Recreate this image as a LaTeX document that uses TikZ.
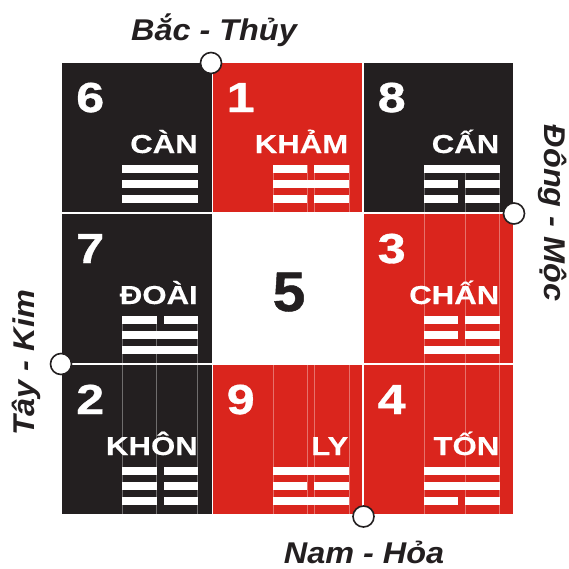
\documentclass[tikz,border=0pt]{standalone}
\usepackage{fontspec}
\setmainfont{Liberation Sans}
\newfontfamily\numfont[FakeStretch=1.2,FakeBold=0.8]{Liberation Sans Bold}
\newfontfamily\midfont[FakeStretch=1.05,FakeBold=0.8]{Liberation Sans Bold}
\newfontfamily\lblfont[FakeStretch=1.2,FakeBold=0.3]{Liberation Sans Bold}
\newfontfamily\dirfont[FakeStretch=1.08]{Liberation Sans Bold Italic}
\definecolor{gblack}{RGB}{35,31,32}
\definecolor{gred}{RGB}{218,37,29}
\tikzset{
  cellbox/.style={draw=none, inner sep=0pt, minimum width=149.5pt, minimum height=149pt, anchor=north west},
  numtext/.style={text=white, inner sep=0pt, anchor=base west, font=\numfont\fontsize{42}{42}\selectfont},
  lbltext/.style={text=white, inner sep=0pt, anchor=base east, font=\lblfont\fontsize{26}{26}\selectfont},
  dirtext/.style={text=gblack, inner sep=0pt, font=\dirfont\fontsize{30}{30}\selectfont},
  barfill/.style={fill=white, draw=none},
  faint/.style={draw=white, draw opacity=0.35, line width=0.6pt},
  marker/.style={circle, draw=gblack, fill=white, line width=1.6pt, minimum size=21pt, inner sep=0pt}
}
% solid / broken bar at vertical offset #1 inside current cell scope
\newcommand\yangbar[1]{\fill[barfill] (60,#1) rectangle (136,#1+8.3);}
\newcommand\yinbar[1]{\fill[barfill] (60,#1) rectangle (94.5,#1+8.3); \fill[barfill] (101.5,#1) rectangle (136,#1+8.3);}
% \guacell{name}{x}{y}{colour}{number}{label}{bar1}{bar2}{bar3}
\newcommand\guacell[9]{%
  \node[cellbox, fill=#4] (#1) at (#2,#3) {};
  \begin{scope}[shift={(#2,#3)}]
    \node[numtext] (#1n) at (14,49) {#5};
    \node[lbltext] (#1l) at (136,90) {#6};
    #7{102}
    #8{117}
    #9{132}
  \end{scope}}
\begin{document}
\begin{tikzpicture}[x=1pt, y=-1pt]
\useasboundingbox (0,0) rectangle (569,568);
\fill[white] (0,0) rectangle (569,568);
% cells
\guacell{c6}{62}{63}{gblack}{6}{CÀN}{\yangbar}{\yangbar}{\yangbar}
\guacell{c1}{212.5}{63}{gred}{1}{KHẢM}{\yinbar}{\yangbar}{\yinbar}
\guacell{c8}{363.5}{63}{gblack}{8}{CẤN}{\yangbar}{\yinbar}{\yinbar}
\guacell{c7}{62}{214}{gblack}{7}{ĐOÀI}{\yinbar}{\yangbar}{\yangbar}
\node[cellbox, fill=white] (c5) at (212.5,214) {};
\node[text=gblack, inner sep=0pt, anchor=base, font=\midfont\fontsize{56}{56}\selectfont] (c5n) at (289,311) {5};
\guacell{c3}{363.5}{214}{gred}{3}{CHẤN}{\yinbar}{\yinbar}{\yangbar}
\guacell{c2}{62}{365}{gblack}{2}{KHÔN}{\yinbar}{\yinbar}{\yinbar}
\guacell{c9}{212.5}{365}{gred}{9}{LY}{\yangbar}{\yinbar}{\yangbar}
\guacell{c4}{363.5}{365}{gred}{4}{TỐN}{\yangbar}{\yangbar}{\yinbar}
% faint guide lines
\foreach \xx in {122,156,197} \draw[faint] (\xx,316) -- (\xx,515);
\foreach \xx in {273,307,314,349} {\draw[faint] (\xx,165) -- (\xx,212); \draw[faint] (\xx,365) -- (\xx,515);}
\foreach \xx in {424,465,499} \draw[faint] (\xx,165) -- (\xx,515);
% direction markers
\node[marker] (mN) at (211,63) {};
\node[marker] (mE) at (514,213.5) {};
\node[marker] (mW) at (61,364) {};
\node[marker] (mS) at (363.5,516.5) {};
% direction labels
\node[dirtext] (tN) at (214,30) {Bắc - Thủy};
\node[dirtext, rotate=-90] (tE) at (553,213) {Đông - Mộc};
\node[dirtext, rotate=90] (tW) at (26,363) {Tây - Kim};
\node[dirtext] (tS) at (364,552) {Nam - Hỏa};
\end{tikzpicture}
\end{document}
